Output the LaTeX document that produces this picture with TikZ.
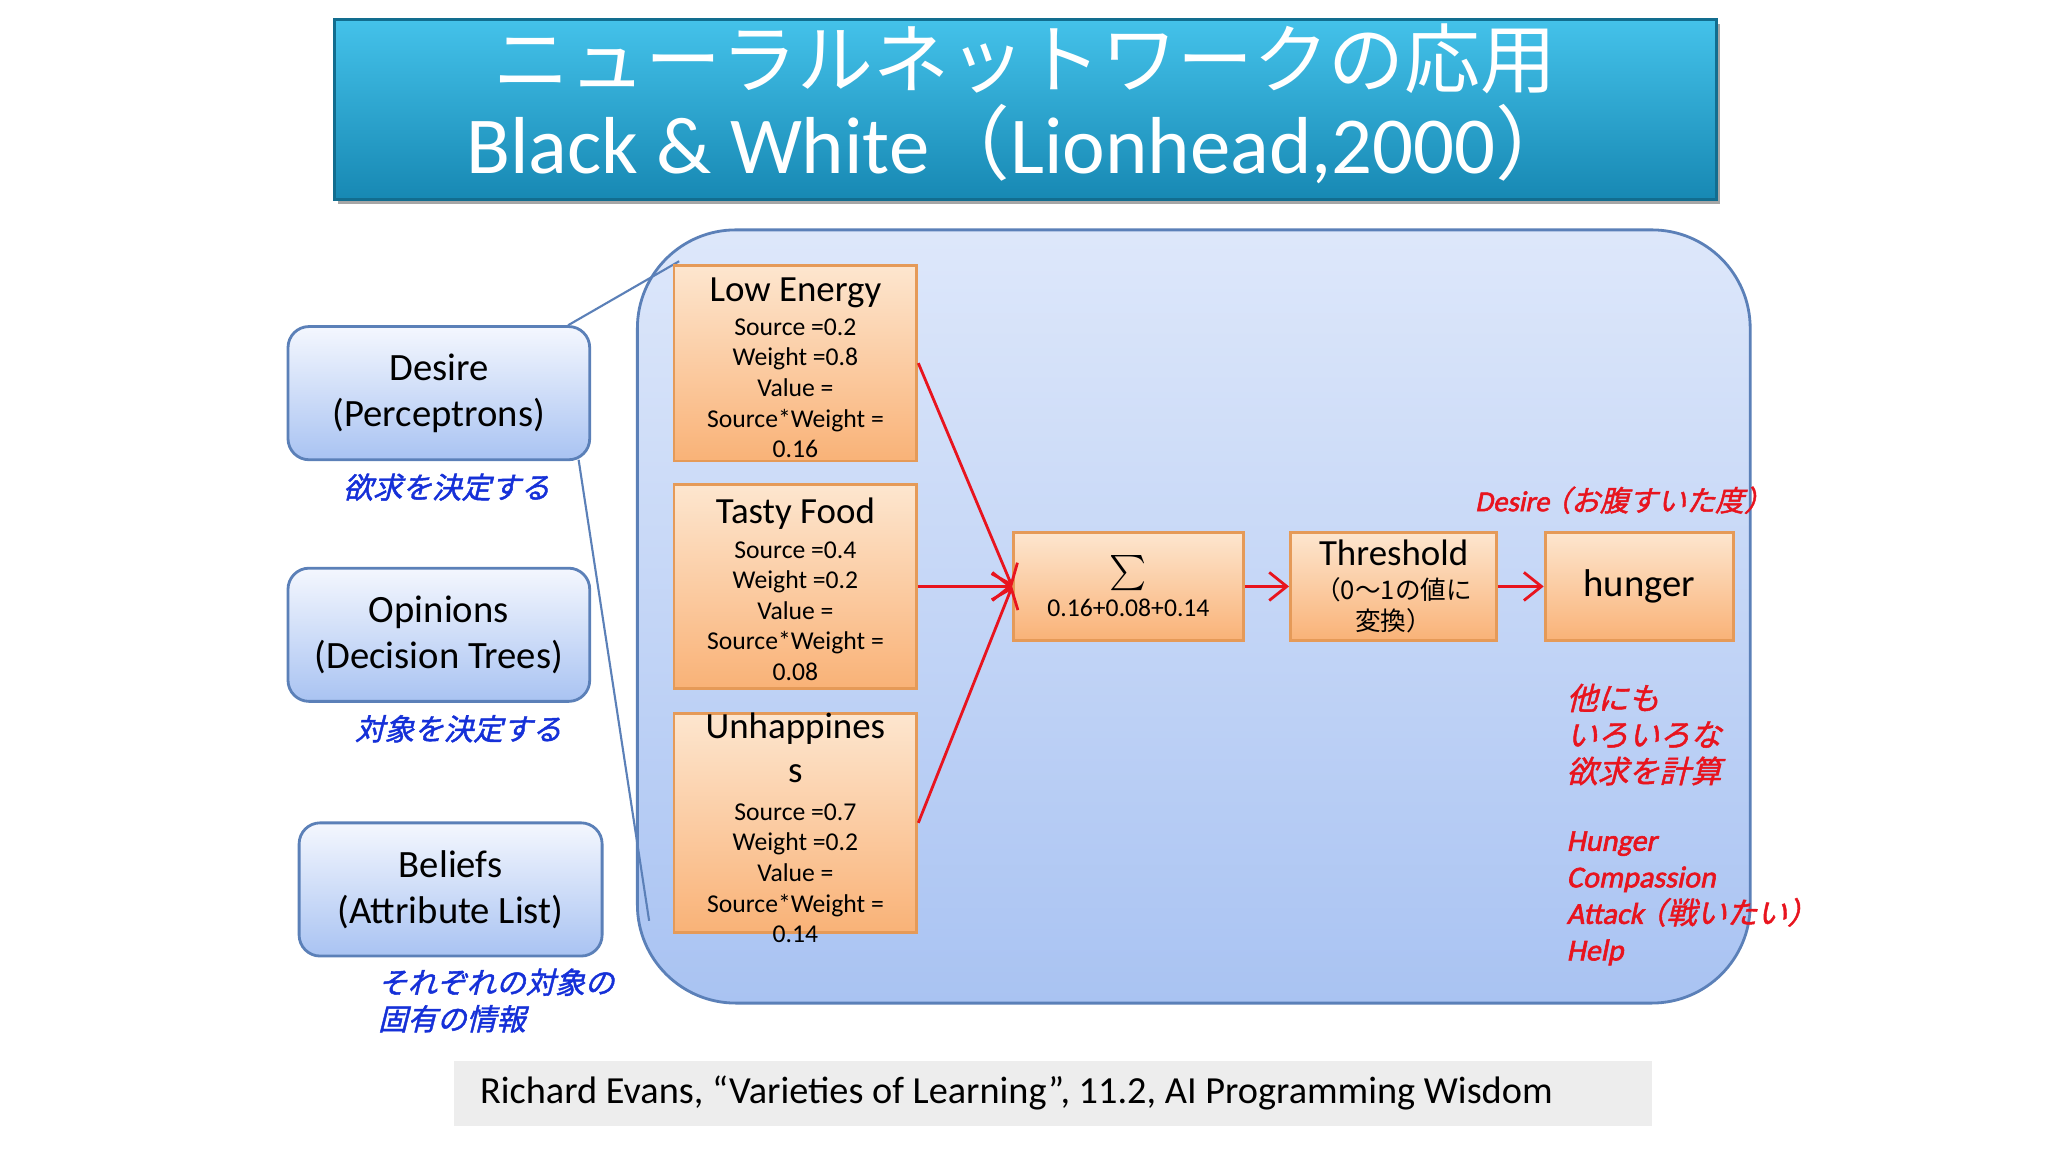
\documentclass[tikz,border=0pt]{standalone}
\usepackage{fontspec}
\setmainfont{Carlito}
\newfontfamily\cjk{Noto Sans CJK JP}
\newfontfamily\cjki[FakeSlant=0.25,FakeBold=1.5]{Noto Sans CJK JP}
\newfontfamily\cari[FakeSlant=0.2,FakeBold=2]{Carlito}
\usetikzlibrary{arrows.meta}
\definecolor{ttop}{HTML}{44C2EA}
\definecolor{tbot}{HTML}{1788B3}
\definecolor{otop}{HTML}{FDE6CF}
\definecolor{obot}{HTML}{F9B277}
\definecolor{oline}{HTML}{E59A58}
\definecolor{btop}{HTML}{F4F7FE}
\definecolor{bbot}{HTML}{A9C3F2}
\definecolor{bline}{HTML}{5B80B8}
\definecolor{jblue}{HTML}{1530D8}
\definecolor{jred}{HTML}{E8141E}
\tikzset{
 obox/.style={draw=oline,line width=0.8pt,top color=otop,bottom color=obot,align=center,inner sep=0pt,
   font=\fontsize{7.3}{8.7}\selectfont,text=black},
 lbox/.style={draw=bline,line width=0.8pt,rounded corners=6pt,top color=btop,bottom color=bbot,align=center,
   font=\fontsize{11}{13}\selectfont,inner sep=0pt},
 jlab/.style={text=jblue,font=\fontsize{8.4}{10.4}\selectfont\cjki,align=left},
 rlab/.style={text=jred,font=\fontsize{8.6}{10.4}\selectfont\cari,align=left,anchor=west},
 rarr/.style={draw=jred,line width=0.8pt,-{Straight Barb[length=5pt,width=8pt]}},
 conn/.style={draw=bline,line width=0.6pt},
 otxt/.style={anchor=north,align=center,font=\fontsize{7.3}{8.7}\selectfont},
}
\newcommand{\hdtxt}[1]{{\fontsize{10.5}{12}\selectfont #1}}
\begin{document}
\begin{tikzpicture}[x=0.013061cm,y=-0.013061cm]
\useasboundingbox (0,0) rectangle (1568,882);
\fill[white] (0,0) rectangle (1568,882);
% title
\fill[black!35] (259,18) rectangle (1317,156);
\node[draw=tbot!80!black,line width=0.8pt,top color=ttop,bottom color=tbot,minimum width=1058*0.013061cm,minimum height=138*0.013061cm,inner sep=0pt] (title) at (785,84) {};
\node[text=white,font=\fontsize{21.6}{23}\selectfont\cjk] (t1) at (785,45) {ニューラルネットワークの応用};
\node[text=white,font=\fontsize{23}{25}\selectfont] (t2) at (782,110) {Black \& White{\cjk（}Lionhead,2000{\cjk）}};
% big panel
\node[draw=bline,line width=0.8pt,rounded corners=28pt,top color=btop!70!bbot,bottom color=bbot,minimum width=852*0.013061cm,minimum height=592*0.013061cm,inner sep=0pt] (panel) at (914,472) {};
% left boxes
\node[lbox,minimum width=231*0.013061cm,minimum height=102*0.013061cm] (des) at (336,301) {Desire\\(Perceptrons)};
\node[lbox,minimum width=231*0.013061cm,minimum height=102*0.013061cm] (opi) at (336,486) {Opinions\\(Decision Trees)};
\node[lbox,minimum width=232*0.013061cm,minimum height=102*0.013061cm] (bel) at (345,681) {Beliefs\\(Attribute List)};
\coordinate (p1) at (520,200);
\coordinate (p2) at (497,705);
\draw[conn] (435,249) -- (p1);
\draw[conn] (443,352) -- (p2);
\node[jlab] (j1) at (342,373) {欲求を決定する};
\node[jlab] (j2) at (351,558) {対象を決定する};
\node[jlab,anchor=west,text width=200] (j3) at (280,766) {それぞれの対象の\\固有の情報};
% orange boxes
\node[obox,minimum width=186*0.013061cm,minimum height=150*0.013061cm] (le) at (609,278) {};
\node[otxt] (let) at (609,203) {\hdtxt{Low Energy}\\[1pt]Source =0.2\\Weight =0.8\\Value =\\Source*Weight =\\0.16};
\node[obox,minimum width=186*0.013061cm,minimum height=156*0.013061cm] (tf) at (609,449) {};
\node[otxt] (tft) at (609,372) {\hdtxt{Tasty Food}\\[1pt]Source =0.4\\Weight =0.2\\Value =\\Source*Weight =\\0.08};
\node[obox,minimum width=186*0.013061cm,minimum height=168*0.013061cm] (un) at (609,630) {};
\node[otxt] (unt) at (609,536) {\hdtxt{Unhappines}\\[4pt]\hdtxt{s}\\[2pt]Source =0.7\\Weight =0.2\\Value =\\Source*Weight =\\0.14};
\node[obox,minimum width=176*0.013061cm,minimum height=83*0.013061cm] (sig) at (864,449) {\hdtxt{$\sum$}\\[1pt]0.16+0.08+0.14};
\node[obox,minimum width=158*0.013061cm,minimum height=83*0.013061cm] (th) at (1067,449) {\hdtxt{Threshold}\\[1pt]{\cjk （0〜1の値に}\\{\cjk 変換）}};
\node[obox,minimum width=144*0.013061cm,minimum height=83*0.013061cm,font=\fontsize{11}{13}\selectfont] (hu) at (1255,449) {hunger};
\draw[rarr] (le.east) -- (sig.west);
\draw[rarr] (tf.east) -- (sig.west);
\draw[rarr] (un.east) -- (sig.west);
\draw[rarr] (sig) -- (th);
\draw[rarr] (th) -- (hu);
% red labels
\node[rlab,font=\fontsize{8.2}{10}\selectfont\cari] (r0) at (1120,383) {Desire{\cjki\kern-2pt（お腹すいた度）}};
\node[rlab,anchor=north west,font=\fontsize{8.8}{10.4}\selectfont\cjki] (r1) at (1190,514) {他にも\\いろいろな\\欲求を計算};
\node[rlab,anchor=north west] (r2) at (1190,627) {Hunger\\Compassion\\Attack{\cjki\kern-2pt（戦いたい）}\\Help};
% footer
\node[fill=black!7,minimum width=917*0.013061cm,minimum height=50*0.013061cm,inner sep=0pt] (foot) at (806,837) {};
\node[anchor=west,font=\fontsize{10.9}{12}\selectfont] (ft) at (358,837) {Richard Evans, “Varieties of Learning”, 11.2, AI Programming Wisdom};
\end{tikzpicture}
\end{document}
